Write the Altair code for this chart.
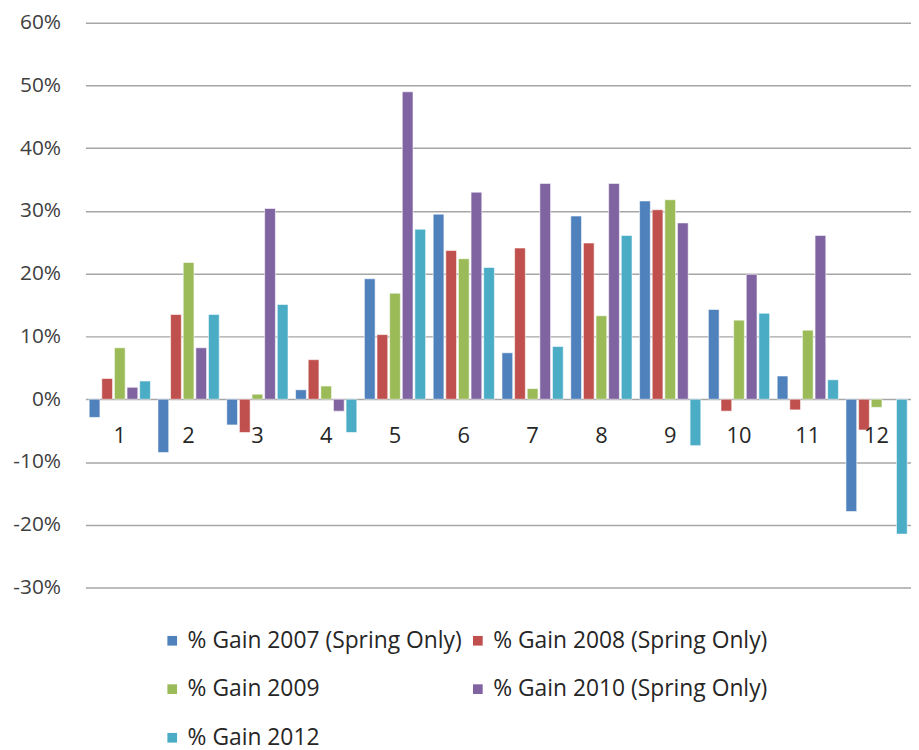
import altair as alt
import pandas as pd

months = [str(i) for i in range(1, 13)]
series = ["% Gain 2007 (Spring Only)", "% Gain 2008 (Spring Only)", "% Gain 2009",
          "% Gain 2010 (Spring Only)", "% Gain 2012"]
g2007 = [-2.9, -8.5, -4.1, 1.5, 19.2, 29.5, 7.4, 29.2, 31.6, 14.3, 3.7, -17.9]
g2008 = [3.3, 13.5, -5.3, 6.3, 10.3, 23.7, 24.1, 24.9, 30.2, -1.9, -1.7, -4.9]
g2009 = [8.2, 21.8, 0.8, 2.1, 16.9, 22.4, 1.7, 13.3, 31.8, 12.6, 11.0, -1.3]
g2010 = [1.9, 8.2, 30.4, -1.9, 49.0, 33.0, 34.4, 34.4, 28.1, 19.9, 26.1, None]
g2012 = [2.9, 13.5, 15.1, -5.3, 27.1, 21.0, 8.4, 26.1, -7.4, 13.7, 3.1, -21.5]
colors = ["#4F81BD", "#C0504D", "#9BBB59", "#8064A2", "#4BACC6"]
y_ticks = [-0.3, -0.2, -0.1, 0.0, 0.1, 0.2, 0.3, 0.4, 0.5, 0.6]

rows = []
for s, vals in zip(series, [g2007, g2008, g2009, g2010, g2012]):
    for m, v in zip(months, vals):
        if v is not None:
            rows.append({"month": m, "series": s, "value": v / 100.0})
df = pd.DataFrame(rows)
labels_df = pd.DataFrame({"month": months})

FONT = "Open Sans"

x_enc = alt.X("month:N", sort=months, axis=None,
              scale=alt.Scale(paddingInner=0.11, paddingOuter=0.055))
y_scale = alt.Scale(domain=[-0.3, 0.6], nice=False)

bars = alt.Chart(df).mark_bar(stroke="white", strokeWidth=0.8, strokeOpacity=0.7).encode(
    x=x_enc,
    xOffset=alt.XOffset("series:N", sort=series, scale=alt.Scale(paddingInner=0.15)),
    y=alt.Y("value:Q", scale=y_scale, title=None,
            axis=alt.Axis(values=y_ticks, format=".0%", domain=False, ticks=False,
                          labelExpr="replace(datum.label, '\u2212', '-')",
                          labelFontSize=21, labelFont=FONT, labelColor="#404040",
                          labelPadding=25, gridColor="#A6A6A6", gridWidth=1.5)),
    color=alt.Color("series:N", sort=series,
                    scale=alt.Scale(domain=series, range=colors),
                    legend=alt.Legend(title=None, orient="none", legendX=76, legendY=611,
                                      direction="horizontal", columns=2,
                                      symbolType="square", symbolSize=95,
                                      symbolStrokeWidth=0, labelFontSize=23,
                                      labelFont=FONT, labelColor="#262626",
                                      labelOffset=4, rowPadding=25, columnPadding=4,
                                      labelLimit=400)),
)

month_labels = alt.Chart(labels_df).mark_text(
    fontSize=22, font=FONT, color="#262626", dy=37, baseline="middle"
).encode(
    x=x_enc,
    y=alt.datum(0),
    text="month:N",
)

chart = alt.layer(bars, month_labels).properties(
    width=832, height=569,
    autosize=alt.AutoSizeParams(type="none"),
    padding={"left": 78, "top": 12, "right": 0, "bottom": 172},
).configure_view(stroke=None)

chart.save("out.html", embed_options={"renderer": "svg", "actions": False})
